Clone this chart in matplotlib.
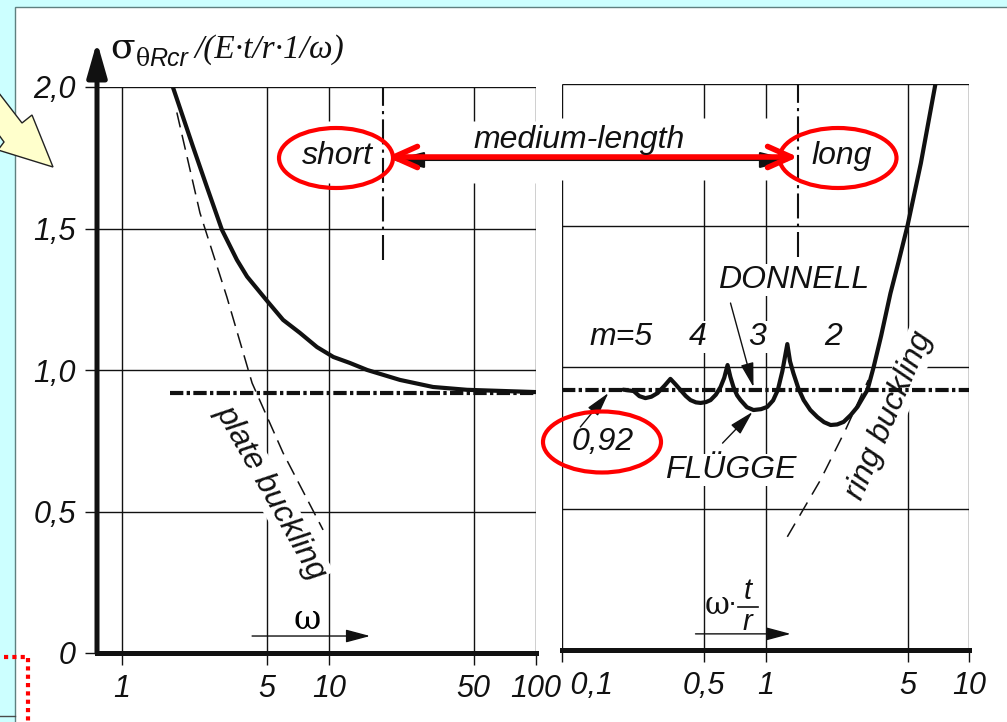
import matplotlib

matplotlib.use("Agg")

import matplotlib.pyplot as plt
from matplotlib.patches import Ellipse, Polygon, Rectangle
from matplotlib.ticker import NullLocator

plt.rcParams["font.family"] = ["Liberation Sans", "DejaVu Sans"]
plt.rcParams["mathtext.fontset"] = "stix"

# ---- values ------------------------------------------------------------
y_ticks = [0, 0.5, 1.0, 1.5, 2.0]
y_tick_labels = ["0", "0,5", "1,0", "1,5", "2,0"]

omega_ticks = [1, 5, 10, 50, 100]
omega_tick_labels = ["1", "5", "10", "50", "100"]
wtr_ticks = [0.1, 0.5, 1, 5, 10]
wtr_tick_labels = [" 0,1", "0,5", "1", "5", "10"]

# left panel, x = omega
short_omega = [1.76, 1.97, 2.2, 2.57, 3.04, 3.59, 4.02, 5.01, 6.0, 7.24, 8.75, 10.5,
               12.6, 15.3, 22.0, 31.8, 46.4, 100]
short_sigma = [2.0, 1.894, 1.79, 1.647, 1.495, 1.389, 1.33, 1.245, 1.177, 1.131, 1.081, 1.046,
               1.025, 1.0, 0.965, 0.94, 0.93, 0.922]
plate_omega = [1.84, 2.38, 3.21, 4.25, 6.0, 9.36]
plate_sigma = [1.91, 1.555, 1.258, 0.954, 0.707, 0.435]

# right panel, x = omega * t / r
flugge_wtr = [0.2, 0.225, 0.24, 0.257, 0.275, 0.295, 0.32, 0.341, 0.36, 0.382,
              0.405, 0.428, 0.455, 0.48, 0.51, 0.537, 0.57, 0.601, 0.627, 0.651,
              0.672, 0.696, 0.725, 0.754, 0.81, 0.873, 0.95, 1.02, 1.09, 1.15,
              1.21, 1.28, 1.32, 1.37, 1.45, 1.54, 1.66, 1.80, 1.94, 2.09,
              2.25, 2.42, 2.62, 2.83, 3.0, 3.17, 3.40, 3.7, 4.11, 4.5,
              4.99, 5.8, 6.84]
flugge_sigma = [0.92, 0.915, 0.897, 0.890, 0.895, 0.908, 0.935, 0.958, 0.94, 0.919,
                0.898, 0.883, 0.875, 0.873, 0.876, 0.883, 0.902, 0.929, 0.962, 1.007,
                0.965, 0.929, 0.900, 0.883, 0.858, 0.848, 0.851, 0.859, 0.882, 0.919,
                0.985, 1.081, 1.02, 0.979, 0.925, 0.883, 0.848, 0.823, 0.805, 0.795,
                0.797, 0.806, 0.83, 0.859, 0.89, 0.919, 1.0, 1.11, 1.26, 1.37,
                1.50, 1.72, 2.0]
ring_wtr = [1.28, 1.86, 2.47, 2.93, 3.2]
ring_sigma = [0.40, 0.60, 0.777, 0.894, 0.954]

donnell_level = 0.92
donnell_omega = [1.71, 100]
donnell_wtr = [0.1, 10]

border_short_omega = 18.2   # short / medium-length
border_long_wtr = 1.44      # medium-length / long
border_sigma = [1.39, 2.0]

mode_labels = ["m=5", "4", "3", "2"]
mode_wtr = [0.196, 0.463, 0.913, 2.16]
mode_sigma = 1.106

# ---- styling -------------------------------------------------------------
INK = "#111111"
RED = "#ff0000"
CYAN = "#ccffff"
W, H = 1007, 722

fig = plt.figure(figsize=(W / 100, H / 100), dpi=100)
fig.patch.set_facecolor(CYAN)


def box(x0, y0, x1, y1):
    return [x0 / W, 1 - y1 / H, (x1 - x0) / W, (y1 - y0) / H]


# slide background pieces
bg = fig.add_axes([0, 0, 1, 1], zorder=0)
bg.set_xlim(0, W)
bg.set_ylim(H, 0)
bg.axis("off")
bg.add_patch(Rectangle((15, 7), W, H, facecolor="white", edgecolor="#5f8080", lw=1))
bg.plot([0, 15], [716, 716], color="#4a4a4a", lw=1)
bg.plot([4, 28, 28], [657, 657, 722], color=RED, lw=3, dashes=(1, 1))
bg.add_patch(Polygon([(53, 167), (32, 115), (22, 123), (-15, 75), (-30, 95), (4, 142), (-2, 150)],
                     closed=True, facecolor="#ffffcc", edgecolor="#222222", lw=1))

ax_l = fig.add_axes(box(97, 87, 536, 653), zorder=2)
ax_r = fig.add_axes(box(562, 84, 969, 650), zorder=2)

for ax, lim in ((ax_l, (0.757, 100)), (ax_r, (0.1, 10))):
    ax.set_facecolor("none")
    ax.set_xscale("log")
    ax.set_xlim(*lim)
    ax.set_ylim(0, 2.0)
    for s in ax.spines.values():
        s.set_visible(False)
    ax.xaxis.set_minor_locator(NullLocator())
    ax.tick_params(axis="both", length=8.6, width=1.0, color=INK, pad=6.5)

tick_font = dict(fontsize=22, fontstyle="italic", color=INK)
ax_l.set_xticks(omega_ticks, omega_tick_labels, **tick_font)
ax_r.set_xticks(wtr_ticks, wtr_tick_labels, **tick_font)
ax_l.set_yticks(y_ticks, y_tick_labels, **tick_font)
ax_r.set_yticks([])
ax_r.get_xticklabels()[0].set_ha("left")

# grid / frame lines, with the break behind the short/medium/long row
grid_kw = dict(color=INK, lw=1.0, zorder=1)
gap = (1.66, 1.88)
for ax, ticks, gapped in ((ax_l, omega_ticks, (10, 50, 100)), (ax_r, wtr_ticks, (0.1, 0.5, 1))):
    x0, x1 = ax.get_xlim()
    ax.hlines(y_ticks[1:], x0, x1, **grid_kw)
    for x in ticks:
        if x in gapped:
            ax.vlines([x, x], [0, gap[1]], [gap[0], 2.0], **grid_kw)
        else:
            ax.vlines(x, 0, 2.0, **grid_kw)
    ax.axhline(0, color=INK, lw=3.6, clip_on=False, zorder=6, solid_capstyle="projecting")

# y axis with arrow
ax_l.annotate("", xy=(0, 2.16), xytext=(0, 0), xycoords=ax_l.get_yaxis_transform(),
              annotation_clip=False,
              arrowprops=dict(arrowstyle="-|>,head_length=1.05,head_width=0.3", lw=3.6,
                              color=INK, shrinkA=0, shrinkB=0, mutation_scale=20))

# curves
dashdot = (3.2, 0.8, 0.8, 0.8)
ax_l.plot(donnell_omega, [donnell_level] * 2, color=INK, lw=3, dashes=dashdot, zorder=4)
ax_r.plot(donnell_wtr, [donnell_level] * 2, color=INK, lw=3, dashes=dashdot, zorder=4)
ax_l.plot(short_omega, short_sigma, color=INK, lw=3, zorder=5,
          solid_capstyle="round", solid_joinstyle="round")
ax_l.plot(plate_omega, plate_sigma, color=INK, lw=1.1, dashes=(10, 5), zorder=4)
ax_r.plot(flugge_wtr, flugge_sigma, color=INK, lw=3, zorder=5,
          solid_capstyle="round", solid_joinstyle="round")
ax_r.plot(ring_wtr, ring_sigma, color=INK, lw=1.1, dashes=(10, 6), zorder=4)

border_dash = (12, 2.5, 1.5, 2.5)
ax_l.plot([border_short_omega] * 2, border_sigma, color=INK, lw=1.5, dashes=border_dash, zorder=3)
ax_r.plot([border_long_wtr] * 2, border_sigma, color=INK, lw=1.5, dashes=border_dash, zorder=3)

# labels
lab = dict(fontsize=23, fontstyle="italic", color=INK, ha="center", va="center", zorder=3,
           bbox=dict(facecolor="white", edgecolor="none", pad=1))
ax_l.text(5.25, 0.565, "plate buckling", rotation=-60.5, rotation_mode="anchor", **lab)
ax_r.text(4.07, 0.83, "ring buckling", rotation=67, rotation_mode="anchor", **lab)
for text, x in zip(mode_labels, mode_wtr):
    ax_r.text(x, mode_sigma, text, **lab)
ax_r.text(1.37, 1.307, "DONNELL", **lab)
ax_r.text(0.673, 0.636, "FLÜGGE", **lab)
ax_r.text(0.158, 0.735, "0,92", **lab)

small_head = dict(arrowstyle="-|>,head_length=0.75,head_width=0.2", lw=1.0, color=INK,
                  shrinkA=0, shrinkB=0, mutation_scale=20)
ax_r.annotate("", xy=(0.169, 0.908), xytext=(0.123, 0.788), arrowprops=small_head)
ax_r.annotate("", xy=(0.863, 0.841), xytext=(0.615, 0.731), arrowprops=small_head)
ax_r.annotate("", xy=(0.873, 0.929), xytext=(0.673, 1.226), arrowprops=small_head)

# axis-direction arrows
ax_l.annotate("", xy=(15.8, 0.06), xytext=(4.25, 0.06), arrowprops=small_head)
ax_l.text(7.83, 0.117, "ω", fontsize=24, family="DejaVu Serif", ha="center", va="center")
ax_r.annotate("", xy=(1.33, 0.057), xytext=(0.453, 0.057), arrowprops=small_head)

# overlay: axis title, fraction label, red highlights
fg = fig.add_axes([0, 0, 1, 1], zorder=10)
fg.set_xlim(0, W)
fg.set_ylim(H, 0)
fg.axis("off")
fg.patch.set_alpha(0)

serif = ["Liberation Serif", "DejaVu Serif"]
fg.text(110, 58, "σ", fontsize=26, family=["DejaVu Serif"], color=INK, va="baseline")
fg.text(136, 66, "θ", fontsize=17, family=["DejaVu Serif"], color=INK, va="baseline")
fg.text(149, 66, "Rcr", fontsize=18, fontstyle="italic", color=INK, va="baseline")
fg.text(195, 58, "/(E·t/r·1/ω)", fontsize=24, family=serif, fontstyle="italic",
        color=INK, va="baseline")

fg.text(717, 606, "ω", fontsize=22, family=["DejaVu Serif"], color=INK, ha="center", va="center")
fg.text(732, 604, "·", fontsize=20, color=INK, ha="center", va="center")
fg.text(748, 591, "t", fontsize=21, fontstyle="italic", color=INK, ha="center", va="center")
fg.plot([738, 758], [607, 607], color=INK, lw=1.2)
fg.text(747, 622, "r", fontsize=21, fontstyle="italic", color=INK, ha="center", va="center")

fg.annotate("", xy=(392, 160), xytext=(792, 160),
            arrowprops=dict(arrowstyle="<|-|>,head_length=1.0,head_width=0.25", lw=1.5,
                            color=INK, shrinkA=0, shrinkB=0, mutation_scale=20))
fg.annotate("", xy=(387, 157), xytext=(798, 157),
            arrowprops=dict(arrowstyle="<->,head_length=0.85,head_width=0.38", lw=4,
                            color=RED, shrinkA=0, shrinkB=0, mutation_scale=20))
word = dict(fontsize=23, fontstyle="italic", color=INK, ha="center", va="center")
fg.text(337, 156, "short", **word)
fg.text(579, 140, "medium-length", **word)
fg.text(842, 156, "long", **word)
for cx, cy, w, h in ((336, 158, 114, 60), (838, 158, 117, 60), (602, 442, 118, 61)):
    fg.add_patch(Ellipse((cx, cy), w, h, fill=False, edgecolor=RED, lw=3))

fig.savefig("out.png", dpi=100, facecolor=fig.get_facecolor())
